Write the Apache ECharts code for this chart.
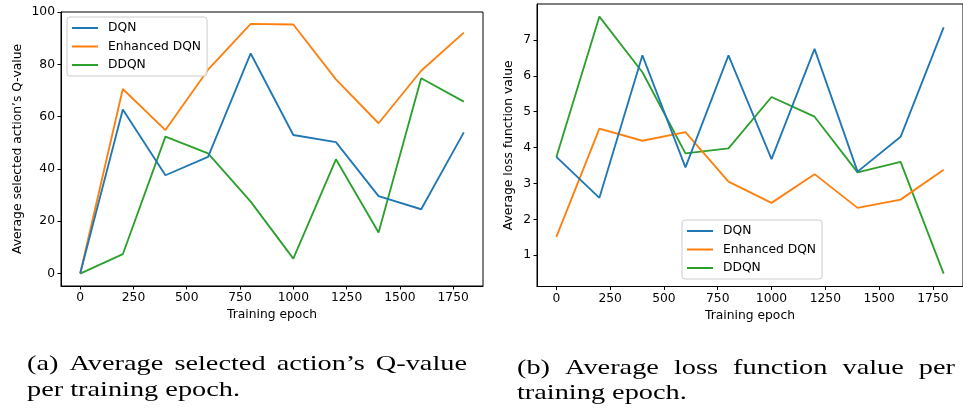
<!DOCTYPE html>
<html>
<head>
<meta charset="utf-8">
<script src="https://cdn.jsdelivr.net/npm/echarts@6/dist/echarts.min.js"></script>
<style>
  html, body { margin: 0; padding: 0; background: #fff; }
  #container { width: 963px; height: 415px; }
</style>
</head>
<body>
<div id="container"></div>
<script>
var epochs = [0, 200, 400, 600, 800, 1000, 1200, 1400, 1600, 1800];

// (a) average selected action's Q-value
var qDqn = [0, 62.8, 37.6, 44.6, 84.2, 53.0, 50.3, 29.6, 24.6, 54.0];
var qEnhanced = [0, 70.6, 54.9, 78.0, 95.5, 95.3, 74.3, 57.5, 77.6, 92.2];
var qDdqn = [0, 7.4, 52.4, 46.0, 27.5, 5.7, 43.7, 15.7, 74.7, 65.8];

// (b) average loss function value
var lossDqn = [3.74, 2.60, 6.57, 3.45, 6.57, 3.68, 6.75, 3.33, 4.30, 7.35];
var lossEnhanced = [1.51, 4.53, 4.19, 4.43, 3.05, 2.46, 3.26, 2.32, 2.55, 3.38];
var lossDdqn = [3.74, 7.65, 6.10, 3.84, 3.98, 5.41, 4.86, 3.31, 3.60, 0.49];

var xTicks = [0, 250, 500, 750, 1000, 1250, 1500, 1750];
var qTicks = [0, 20, 40, 60, 80, 100];
var lossTicks = [1, 2, 3, 4, 5, 6, 7];

var names = ['DQN', 'Enhanced DQN', 'DDQN'];
var colors = ['#1f77b4', '#ff7f0e', '#2ca02c'];

var captionA = ['(a) Average selected action\u2019s Q-value', 'per training epoch.'];
var captionB = ['(b) Average loss function value per', 'training epoch.'];

var dom = document.getElementById('container');
var myChart = echarts.init(dom, null, { renderer: 'canvas' });

var tickFont = 'DejaVu Sans';
var tickSize = 12.3;

function pairs(ys) {
    return ys.map(function (y, i) { return [epochs[i], y]; });
}

function plain(v) { return String(v); }

function xAxisFor(gridIndex) {
    return {
        type: 'value', gridIndex: gridIndex,
        min: -90, max: 1890,
        name: 'Training epoch', nameLocation: 'middle', nameGap: 23,
        nameTextStyle: { fontFamily: tickFont, fontSize: tickSize, color: '#000' },
        axisLine: { show: true, onZero: false, lineStyle: { color: '#000', width: 1 } },
        axisTick: { show: true, length: 3.5, lineStyle: { color: '#000' }, customValues: xTicks },
        axisLabel: { fontFamily: tickFont, fontSize: tickSize, color: '#000', margin: 6, customValues: xTicks, formatter: plain },
        splitLine: { show: false }
    };
}

function yAxisFor(gridIndex, min, max, ticks, title, gap) {
    return {
        type: 'value', gridIndex: gridIndex,
        min: min, max: max,
        name: title, nameLocation: 'middle', nameGap: gap,
        nameTextStyle: { fontFamily: tickFont, fontSize: tickSize, color: '#000' },
        axisLine: { show: true, onZero: false, lineStyle: { color: '#000', width: 1 } },
        axisTick: { show: true, length: 3.5, lineStyle: { color: '#000' }, customValues: ticks },
        axisLabel: { fontFamily: tickFont, fontSize: tickSize, color: '#000', margin: 6, customValues: ticks, formatter: plain },
        splitLine: { show: false }
    };
}

function legendFor(left, top) {
    return {
        left: left, top: top, orient: 'vertical',
        data: names,
        icon: 'rect', itemWidth: 26, itemHeight: 2, itemGap: 4.5,
        padding: [4, 6, 4, 5],
        backgroundColor: 'rgba(255,255,255,0.8)',
        borderColor: '#cccccc', borderWidth: 1, borderRadius: 3,
        textStyle: { fontFamily: tickFont, fontSize: tickSize, color: '#000', lineHeight: 14, padding: [0, 0, 0, 5] }
    };
}

function lines(values, axisIndex) {
    return values.map(function (ys, i) {
        return {
            name: names[i], type: 'line',
            xAxisIndex: axisIndex, yAxisIndex: axisIndex,
            data: pairs(ys), showSymbol: false, symbol: 'none',
            lineStyle: { color: colors[i], width: 1.85 },
            itemStyle: { color: colors[i] },
            z: 3 - i
        };
    });
}

// caption words laid out like LaTeX justified text
var capFont = '22px "Liberation Serif"';
var measure = document.createElement('canvas').getContext('2d');
measure.font = capFont;
function textWidth(s) { return measure.measureText(s).width; }

var capScale = 213 / textWidth(captionA[1]);

function captionLine(text, left, right, baseline, justify) {
    var words = text.split(' ');
    var widths = words.map(function (w) { return textWidth(w) * capScale; });
    var total = widths.reduce(function (a, b) { return a + b; }, 0);
    var gap = justify ? (right - left - total) / (words.length - 1) : textWidth(' ') * capScale;
    var x = left;
    return words.map(function (w, i) {
        var el = {
            type: 'text', x: x, y: baseline - 7, scaleX: capScale, scaleY: 1,
            style: { text: w, font: capFont, fill: '#000', verticalAlign: 'middle', textAlign: 'left' },
            silent: true
        };
        x += widths[i] + gap;
        return el;
    });
}

var graphics = []
    .concat(captionLine(captionA[0], 27, 467, 371, true))
    .concat(captionLine(captionA[1], 27, 240, 397, false))
    .concat(captionLine(captionB[0], 517, 955, 375, true))
    .concat(captionLine(captionB[1], 517, 690, 400, false));

var option = {
    animation: false,
    backgroundColor: '#fff',
    grid: [
        { left: 61, top: 12, width: 422, height: 274, show: true, borderColor: '#000', borderWidth: 1 },
        { left: 537, top: 4, width: 448, height: 282.5, show: true, borderColor: '#000', borderWidth: 1 }
    ],
    xAxis: [xAxisFor(0), xAxisFor(1)],
    yAxis: [
        yAxisFor(0, -4.77, 100.07, qTicks, 'Average selected action\u2019s Q-value', 37),
        yAxisFor(1, 0.13, 8.0, lossTicks, 'Average loss function value', 22)
    ],
    legend: [legendFor(67, 17), legendFor(682, 220)],
    series: lines([qDqn, qEnhanced, qDdqn], 0).concat(lines([lossDqn, lossEnhanced, lossDdqn], 1)),
    graphic: graphics
};

myChart.setOption(option);
</script>
</body>
</html>
